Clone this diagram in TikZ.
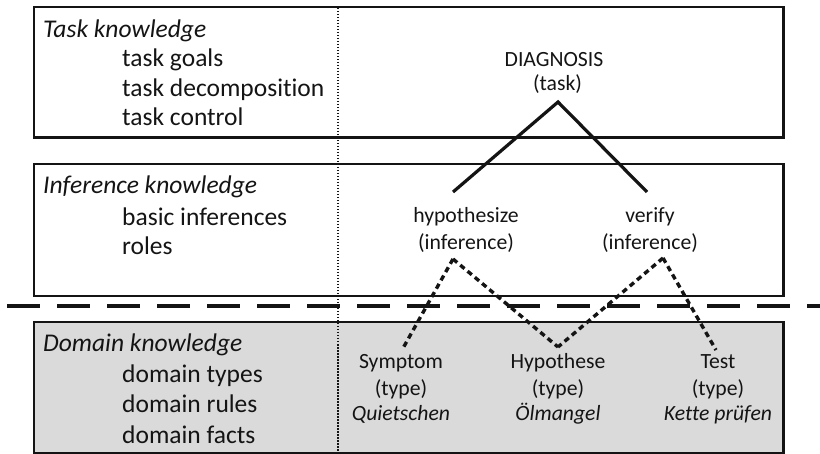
\documentclass[tikz,border=0pt]{standalone}
\usepackage{fontspec}
\setmainfont[Ligatures=NoCommon]{Carlito}
\definecolor{ink}{HTML}{141414}
\definecolor{domfill}{HTML}{DADADA}
\tikzset{
  layerbox/.style={draw=ink, line width=2.5pt, inner sep=0pt, outer sep=0pt, anchor=north west, minimum width=749.5pt},
  headtxt/.style={anchor=base west, inner sep=0pt, font=\fontsize{25.5}{30}\selectfont\itshape, text=ink},
  itemtxt/.style={anchor=base west, inner sep=0pt, font=\fontsize{25.5}{30}\selectfont, text=ink},
  lbl/.style={anchor=base, inner sep=0pt, font=\fontsize{21.7}{26}\selectfont, text=ink},
  lblit/.style={anchor=base, inner sep=0pt, font=\fontsize{21.7}{26}\selectfont\itshape, text=ink},
  solidlink/.style={draw=ink, line width=3.2pt, line join=miter},
  dotlink/.style={draw=ink, line width=3.4pt, dash pattern=on 5.5pt off 4pt},
  sepline/.style={draw=ink, line width=3.6pt, dash pattern=on 33pt off 17pt},
  colsep/.style={draw=ink, line width=1.2pt, dash pattern=on 1.5pt off 1.5pt},
}
\begin{document}
\begin{tikzpicture}[x=1pt,y=-1pt]
\useasboundingbox (0,0) rectangle (820,454);
% layer boxes
\node[layerbox, minimum height=130.5pt] (taskbox) at (34,7) {};
\node[layerbox, minimum height=132pt] (infbox) at (34,164) {};
\node[layerbox, minimum height=131pt, fill=domfill] (dombox) at (34,322) {};
% column separator
\coordinate (ctop) at (338,8);
\coordinate (cbot) at (338,452);
\draw[colsep] (ctop) -- (cbot);
% level separator
\coordinate (sl) at (7,306);
\coordinate (sr) at (820,306);
\draw[sepline] (sl) -- (sr);
% left texts
\node[headtxt] (th) at (43,37.5) {Task knowledge};
\node[itemtxt] (t1) at (122,67) {task goals};
\node[itemtxt] (t2) at (122,96.5) {task decomposition};
\node[itemtxt] (t3) at (122,125.5) {task control};
\node[headtxt] (ih) at (43,194) {Inference knowledge};
\node[itemtxt] (i1) at (122,225.5) {basic inferences};
\node[itemtxt] (i2) at (122,255) {roles};
\node[headtxt] (dh) at (43,351.5) {Domain knowledge};
\node[itemtxt] (d1) at (122,383) {domain types};
\node[itemtxt] (d2) at (122,413) {domain rules};
\node[itemtxt] (d3) at (122,443) {domain facts};
% right labels
\node[lbl] (diag) at (554,66.7) {DIAGNOSIS};
\node[lbl] (diagt) at (557.5,90.5) {(task)};
\node[lbl] (hyp) at (466,223) {hypothesize};
\node[lbl] (hypt) at (466,250) {(inference)};
\node[lbl] (ver) at (650,223) {verify};
\node[lbl] (vert) at (650,250) {(inference)};
\node[lbl] (sym) at (401,369) {Symptom};
\node[lbl] (symt) at (401,395.5) {(type)};
\node[lblit] (symi) at (401,420.5) {Quietschen};
\node[lbl] (hy) at (558,369) {Hypothese};
\node[lbl] (hyt) at (558,395.5) {(type)};
\node[lblit] (hyi) at (558,420.5) {Ölmangel};
\node[lbl] (te) at (718,369) {Test};
\node[lbl] (tet) at (718,395.5) {(type)};
\node[lblit] (tei) at (718,420.5) {Kette prüfen};
% connector points
\coordinate (diagapex) at (558,102);
\coordinate (hyptop) at (453,192);
\coordinate (vertop) at (647,192);
\coordinate (hypapex) at (453,259);
\coordinate (verapex) at (663,258);
\coordinate (symtop) at (402,350);
\coordinate (hytop) at (558,347);
\coordinate (tetop) at (716,350);
% task decomposition
\draw[solidlink] (hyptop) -- (diagapex) -- (vertop);
% inference-domain links
\draw[dotlink] (hypapex) -- (symtop);
\draw[dotlink] (hypapex) -- (hytop);
\draw[dotlink] (verapex) -- (hytop);
\draw[dotlink] (verapex) -- (tetop);
\end{tikzpicture}
\end{document}
